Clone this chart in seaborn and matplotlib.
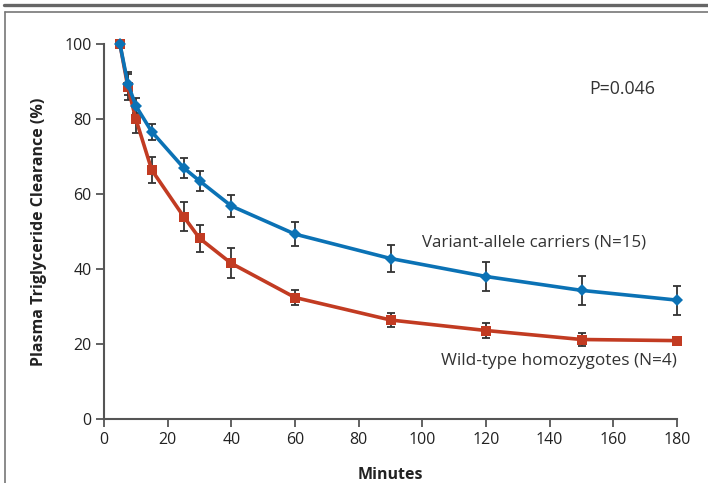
import numpy as np
import pandas as pd
import matplotlib
matplotlib.use("Agg")
import matplotlib.pyplot as plt
import seaborn as sns
from matplotlib.lines import Line2D

# ── Data ────────────────────────────────────────────────
MINUTES     = [5, 7.5, 10, 15, 25, 30, 40, 60, 90, 120, 150, 180]
VARIANT     = [100, 89.4, 83.5, 76.6, 67.0, 63.5, 56.8, 49.3, 42.8, 38.0, 34.3, 31.7]
VARIANT_ERR = [0, 3.1, 2.0, 2.1, 2.7, 2.7, 2.9, 3.2, 3.7, 3.8, 3.8, 3.9]
WILD        = [100, 88.5, 80.0, 66.4, 54.0, 48.2, 41.5, 32.4, 26.4, 23.6, 21.2, 20.9]
WILD_ERR    = [0, 3.5, 3.7, 3.6, 3.9, 3.6, 4.0, 2.0, 1.9, 1.9, 1.7, 0.6]
GROUPS      = ["Variant-allele carriers (N=15)", "Wild-type homozygotes (N=4)"]
X_TICKS     = list(range(0, 181, 20))
Y_TICKS     = list(range(0, 101, 20))
P_TEXT      = "P=0.046"

BLUE = "#0b72b5"
RED  = "#c23b22"
GRID = "#555555"

df = pd.DataFrame({
    "minutes": MINUTES * 2,
    "value": VARIANT + WILD,
    "err": VARIANT_ERR + WILD_ERR,
    "group": [GROUPS[0]] * len(MINUTES) + [GROUPS[1]] * len(MINUTES),
})

sns.set_theme(style="white")
plt.rcParams["font.family"] = ["Open Sans", "DejaVu Sans"]

fig = plt.figure(figsize=(7.08, 4.83), dpi=100)
ax = fig.add_axes([104 / 708, 64 / 483, 573 / 708, 375 / 483])

# error bars first so markers sit on top
for grp in GROUPS:
    sub = df[df["group"] == grp]
    ax.errorbar(sub["minutes"], sub["value"], yerr=sub["err"], fmt="none",
                ecolor="#333333", elinewidth=1.3, capsize=3, capthick=1.3,
                zorder=2, clip_on=False)

# red first, blue drawn over it (as in the reference)
for grp, col, mk in [(GROUPS[1], RED, "s"), (GROUPS[0], BLUE, "D")]:
    sns.lineplot(data=df[df["group"] == grp], x="minutes", y="value",
                 color=col, marker=mk, markersize=6.5, markeredgewidth=0,
                 linewidth=2.6, legend=False, ax=ax, zorder=3, clip_on=False)

ax.set_xlim(0, 180)
ax.set_ylim(0, 100)
ax.set_xticks(X_TICKS)
ax.set_yticks(Y_TICKS)
ax.tick_params(axis="both", direction="out", length=6, width=1.3,
               color=GRID, labelsize=11.5, pad=3, labelcolor="#222222",
               bottom=True, left=True)
for side in ["top", "right"]:
    ax.spines[side].set_visible(False)
for side in ["left", "bottom"]:
    ax.spines[side].set_color(GRID)
    ax.spines[side].set_linewidth(1.5)

ax.set_xlabel("Minutes", fontsize=11.5, fontweight="bold", labelpad=14,
              color="#222222")
ax.set_ylabel("Plasma Triglyceride Clearance (%)", fontsize=11.5,
              fontweight="bold", labelpad=12, color="#222222")

ax.text(100, 47, GROUPS[0], fontsize=12.2, color="#333333", va="center", ha="left")
ax.text(106, 15.5, GROUPS[1], fontsize=12.4, color="#333333", va="center", ha="left")
ax.text(152.4, 88, P_TEXT, fontsize=12.8, color="#333333", va="center", ha="left")

# frame lines around the panel
fig.add_artist(Line2D([4 / 708, 1], [1 - 5 / 483, 1 - 5 / 483],
                      color="#666666", linewidth=2.4, transform=fig.transFigure))
fig.add_artist(Line2D([5 / 708, 1], [1 - 12 / 483, 1 - 12 / 483],
                      color="#777777", linewidth=1.2, transform=fig.transFigure))
fig.add_artist(Line2D([5 / 708, 5 / 708], [0, 1 - 12 / 483],
                      color="#777777", linewidth=1.2, transform=fig.transFigure))

fig.savefig("out.png", dpi=100)
